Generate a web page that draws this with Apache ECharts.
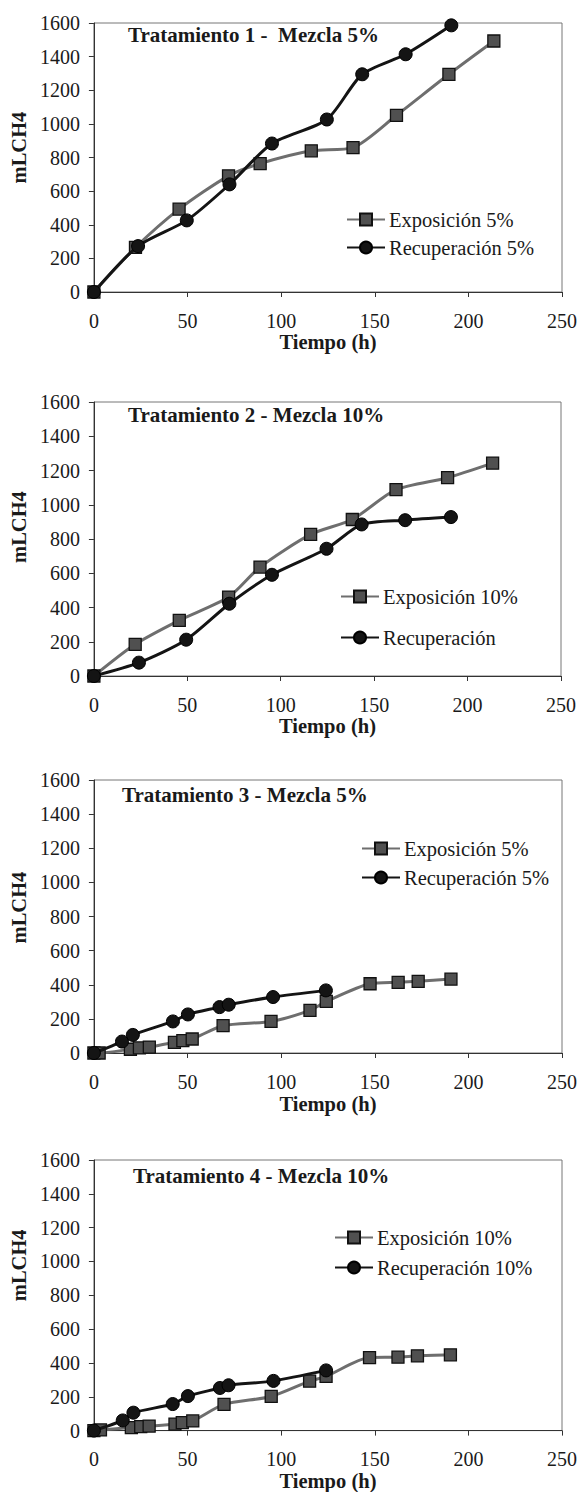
<!DOCTYPE html>
<html>
<head>
<meta charset="utf-8">
<script src="https://cdn.jsdelivr.net/npm/echarts@6/dist/echarts.min.js"></script>
<style>
html,body{margin:0;padding:0;background:#fff;}
#c{width:580px;height:1492px;}
</style>
</head>
<body>
<div id="c"></div>
<script>
// ---- Data (time in h, methane volume in mL) ----
var xTicks = [0, 50, 100, 150, 200, 250];
var yTicks = [0, 200, 400, 600, 800, 1000, 1200, 1400, 1600];

var titles = ['Tratamiento 1 -  Mezcla 5%', 'Tratamiento 2 - Mezcla 10%', 'Tratamiento 3 - Mezcla 5%', 'Tratamiento 4 - Mezcla 10%'];
var expoNames = ['Exposición 5%', 'Exposición 10%', 'Exposición 5%', 'Exposición 10%'];
var recNames = ['Recuperación 5%', 'Recuperación', 'Recuperación 5%', 'Recuperación 10%'];

var expo1_t = [0, 22.2, 45.5, 71.9, 88.8, 116.1, 138.4, 161.6, 189.6, 213.6];
var expo1_v = [0, 265, 493, 691, 764, 840, 859, 1051, 1295, 1493];
var rec1_t = [0, 23.6, 49.6, 72.4, 95.1, 124.4, 143.3, 166.5, 190.9];
var rec1_v = [0, 273, 426, 640, 883, 1026, 1295, 1414, 1586];

var expo2_t = [0, 22.1, 45.7, 72.1, 88.9, 116.0, 138.3, 161.7, 189.3, 213.4];
var expo2_v = [0, 185, 325, 461, 636, 827, 914, 1088, 1158, 1243];
var rec2_t = [0, 24.1, 49.4, 72.5, 95.3, 124.5, 143.3, 166.6, 191.1];
var rec2_v = [0, 78, 212, 422, 591, 743, 885, 910, 928];

var expo3_t = [0, 2.8, 19.5, 24.3, 29.6, 43, 47.5, 52.5, 69, 94.6, 115.4, 124.1, 147.5, 162.5, 173.2, 190.7];
var expo3_v = [0, 0, 22, 30, 35, 62, 72, 82, 160, 185, 250, 302, 406, 414, 420, 433];
var rec3_t = [0, 15, 20.8, 42.2, 50.2, 67.1, 72, 95.7, 123.9];
var rec3_v = [0, 67, 106, 185, 226, 269, 283, 328, 367];

var expo4_t = [0, 3.5, 20, 25, 29.5, 43.3, 47.2, 52.8, 69.5, 94.7, 115.2, 124, 147.2, 162.4, 172.8, 190.4];
var expo4_v = [0, 4, 18, 24, 27, 38, 47, 57, 155, 202, 292, 321, 432, 434, 442, 448];
var rec4_t = [0, 15.4, 21.1, 42.1, 50.2, 67.3, 71.9, 95.9, 124];
var rec4_v = [0, 60, 106, 157, 204, 252, 268, 294, 356];

var expoT = [expo1_t, expo2_t, expo3_t, expo4_t];
var expoV = [expo1_v, expo2_v, expo3_v, expo4_v];
var recT = [rec1_t, rec2_t, rec3_t, rec4_t];
var recV = [rec1_v, rec2_v, rec3_v, rec4_v];

// ---- Layout ----
var FONT = 'Liberation Serif, Times New Roman, serif';
var grids = [
  {left: 93, top: 23, width: 470, height: 269},
  {left: 92, top: 402, width: 469, height: 274},
  {left: 92, top: 780, width: 474, height: 273},
  {left: 93, top: 1160, width: 470, height: 272}
];
var titlePos = [[128, 24], [128, 404], [122, 784], [133, 1165]];
var legendPos = [[346, 209, 7], [340, 586, 20], [361, 838, 8], [334, 1227, 9]];
var xNameGap = [38, 34, 40, 38];
var yNamePad = [20, 24, 18, 60];

function zip(a, b) { return a.map(function (v, i) { return [v, b[i]]; }); }
function plain(v) { return String(v); }

var option = {
  animation: false,
  backgroundColor: '#fff',
  textStyle: {fontFamily: FONT},
  title: [], legend: [], grid: [], xAxis: [], yAxis: [], series: []
};

for (var k = 0; k < 4; k++) {
  var g = grids[k];
  option.grid.push({left: g.left, top: g.top, width: g.width, height: g.height,
    show: true, borderColor: '#777', borderWidth: 1, backgroundColor: 'transparent'});
  option.title.push({text: titles[k], left: titlePos[k][0], top: titlePos[k][1], padding: 0,
    textStyle: {fontFamily: FONT, fontWeight: 'bold', fontSize: 21, color: '#1a1a1a'}});
  option.xAxis.push({type: 'value', gridIndex: k, min: xTicks[0], max: xTicks[xTicks.length - 1], interval: 50,
    name: 'Tiempo (h)', nameLocation: 'middle', nameGap: xNameGap[k],
    nameTextStyle: {fontFamily: FONT, fontWeight: 'bold', fontSize: 20.5, color: '#1a1a1a'},
    axisLine: {show: true, onZero: false, lineStyle: {color: '#333', width: 1}},
    axisTick: {show: true, inside: false, length: 5, lineStyle: {color: '#333'}},
    axisLabel: {margin: 18.5, fontFamily: FONT, fontSize: 20, color: '#1a1a1a', formatter: plain},
    splitLine: {show: false}});
  option.yAxis.push({type: 'value', gridIndex: k, min: yTicks[0], max: yTicks[yTicks.length - 1], interval: 200,
    name: 'mLCH4', nameLocation: 'middle', nameGap: 61, nameRotate: 90,
    nameTextStyle: {fontFamily: FONT, fontWeight: 'bold', fontSize: 20.5, color: '#1a1a1a', padding: [0, 0, 0, yNamePad[k]]},
    axisLine: {show: true, onZero: false, lineStyle: {color: '#333', width: 1}},
    axisTick: {show: true, inside: false, length: 5, lineStyle: {color: '#333'}},
    axisLabel: {margin: 14, fontFamily: FONT, fontSize: 20, color: '#1a1a1a', formatter: plain},
    splitLine: {show: false}});
  option.legend.push({orient: 'vertical', left: legendPos[k][0], top: legendPos[k][1], padding: 0,
    itemGap: legendPos[k][2], itemWidth: 38, itemHeight: 15,
    data: [expoNames[k], recNames[k]],
    selectedMode: false,
    textStyle: {fontFamily: FONT, fontSize: 20.5, color: '#1a1a1a', padding: [0, 0, 0, -1]}});
  option.series.push({type: 'line', name: expoNames[k], xAxisIndex: k, yAxisIndex: k,
    data: zip(expoT[k], expoV[k]), smooth: 0.25,
    symbol: 'rect', symbolSize: 12,
    lineStyle: {color: '#6e6e6e', width: 3},
    itemStyle: {color: '#505050', borderColor: '#111', borderWidth: 1.3},
    z: 2});
  option.series.push({type: 'line', name: recNames[k], xAxisIndex: k, yAxisIndex: k,
    data: zip(recT[k], recV[k]), smooth: 0.25,
    symbol: 'circle', symbolSize: 13,
    lineStyle: {color: '#141414', width: 3},
    itemStyle: {color: '#141414', borderColor: '#000', borderWidth: 1},
    z: 3});
}

var chart = echarts.init(document.getElementById('c'), null, {renderer: 'svg'});
chart.setOption(option);
</script>
</body>
</html>
